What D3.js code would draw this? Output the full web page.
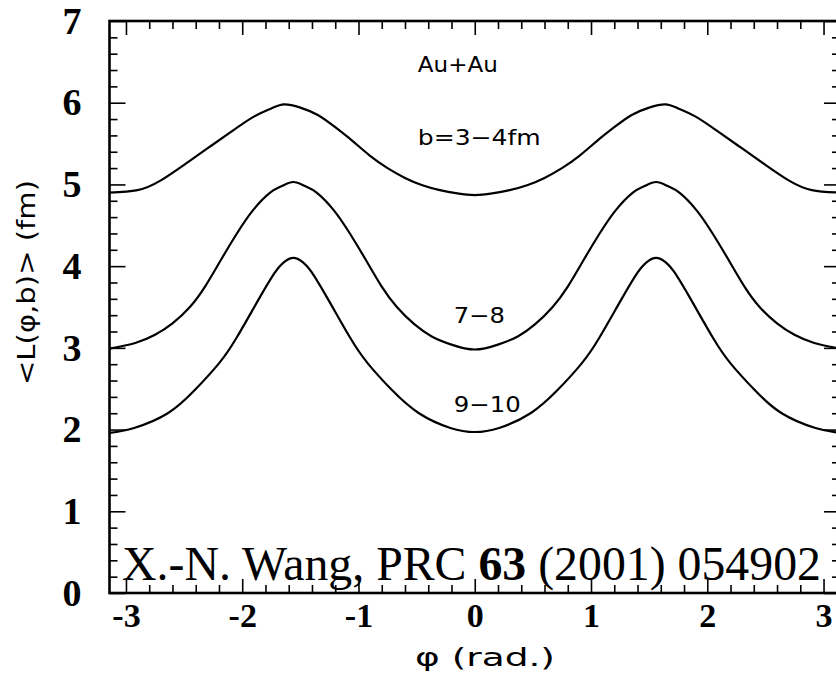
<!DOCTYPE html>
<html><head><meta charset="utf-8">
<script src="https://cdn.jsdelivr.net/npm/d3@7"></script>
<style>body{margin:0;background:#fff}</style>
</head><body>
<svg id="chart" width="836" height="677"></svg>
<script>
// ---- data ----
const phi3_4 = [-3.1416,-2.9,-2.7,-2.5,-2.3,-2.1,-1.9,-1.75,-1.64,-1.5,-1.35,-1.2,-1.05,-0.9,-0.75,-0.6,-0.45,-0.3,-0.15,0,
                0.15,0.3,0.45,0.6,0.75,0.9,1.05,1.2,1.35,1.5,1.64,1.75,1.9,2.1,2.3,2.5,2.7,2.9,3.1416];
const L3_4   = [4.90,4.93,5.05,5.24,5.44,5.64,5.83,5.93,5.98,5.94,5.85,5.70,5.53,5.35,5.20,5.08,4.99,4.93,4.89,4.87,
                4.89,4.93,4.99,5.08,5.20,5.35,5.53,5.70,5.85,5.94,5.98,5.93,5.83,5.64,5.44,5.24,5.05,4.93,4.90];

const phi7_8 = [-3.1416,-2.92,-2.75,-2.6,-2.45,-2.32,-2.19,-2.05,-1.91,-1.76,-1.66,-1.56,-1.46,-1.36,-1.21,-1.07,-0.93,-0.80,-0.67,-0.52,-0.37,-0.2,0,
                0.2,0.37,0.52,0.67,0.80,0.93,1.07,1.21,1.36,1.46,1.56,1.66,1.76,1.91,2.05,2.19,2.32,2.45,2.6,2.75,2.92,3.1416];
const L7_8   = [2.99,3.06,3.16,3.30,3.50,3.75,4.06,4.39,4.68,4.90,4.98,5.03,4.98,4.90,4.68,4.39,4.06,3.75,3.50,3.29,3.14,3.04,2.98,
                3.04,3.14,3.29,3.50,3.75,4.06,4.39,4.68,4.90,4.98,5.03,4.98,4.90,4.68,4.39,4.06,3.75,3.50,3.30,3.16,3.06,2.99];

const phi9_10 = [-3.1416,-2.93,-2.64,-2.41,-2.2,-2.05,-1.86,-1.72,-1.64,-1.56,-1.48,-1.40,-1.26,-1.07,-0.92,-0.71,-0.48,-0.21,0,
                 0.21,0.48,0.71,0.92,1.07,1.26,1.40,1.48,1.56,1.64,1.72,1.86,2.05,2.2,2.41,2.64,2.93,3.1416];
const L9_10   = [1.96,2.02,2.20,2.48,2.81,3.12,3.59,3.92,4.05,4.10,4.05,3.92,3.59,3.12,2.81,2.48,2.20,2.02,1.97,
                 2.02,2.20,2.48,2.81,3.12,3.59,3.92,4.05,4.10,4.05,3.92,3.59,3.12,2.81,2.48,2.20,2.02,1.96];

const xMajorTicks = [-3,-2,-1,0,1,2,3];
const xTickLabels = ["-3","-2","-1","0","1","2","3"];
const yMajorTicks = [0,1,2,3,4,5,6,7];
const yTickLabels = ["0","1","2","3","4","5","6","7"];
const xMinorTicks = [-2.8,-2.6,-2.4,-2.2,-1.8,-1.6,-1.4,-1.2,-0.8,-0.6,-0.4,-0.2,0.2,0.4,0.6,0.8,1.2,1.4,1.6,1.8,2.2,2.4,2.6,2.8];
const yMinorTicks = [0.2,0.4,0.6,0.8,1.2,1.4,1.6,1.8,2.2,2.4,2.6,2.8,3.2,3.4,3.6,3.8,4.2,4.4,4.6,4.8,5.2,5.4,5.6,5.8,6.2,6.4,6.6,6.8];

const curveLabels = [
  {text:"Au+Au",   phi:-0.49, L:6.37, len:80},
  {text:"b=3\u22124fm", phi:-0.49, L:5.48, len:123},
  {text:"7\u22128",  phi:-0.18, L:3.31, len:51},
  {text:"9\u221210", phi:-0.18, L:2.21, len:67}
];
const xTitle = "\u03C6 (rad.)";
const yTitle = "<L(\u03C6,b)> (fm)";

// ---- drawing ----
const svg = d3.select("#chart");
const X0 = 109.5, X1 = 840, Y0 = 593, Y1 = 21;
const x = d3.scaleLinear().domain([-Math.PI, Math.PI]).range([X0, X1]);
const y = d3.scaleLinear().domain([0, 7]).range([Y0, Y1]);

svg.append("rect").attr("width",836).attr("height",677).attr("fill","#fff");

function styleAxis(g){
  g.select(".domain").remove();
  g.selectAll(".tick line").attr("stroke","#000").attr("stroke-width",1.6);
}
// minor ticks
svg.append("g").attr("transform",`translate(0,${Y0})`)
  .call(d3.axisBottom(x).tickValues(xMinorTicks).tickSize(-8).tickFormat(""))
  .call(styleAxis);
svg.append("g").attr("transform",`translate(0,${Y1})`)
  .call(d3.axisTop(x).tickValues(xMinorTicks).tickSize(-8).tickFormat(""))
  .call(styleAxis);
svg.append("g").attr("transform",`translate(${X0},0)`)
  .call(d3.axisLeft(y).tickValues(yMinorTicks).tickSize(-8).tickFormat(""))
  .call(styleAxis);
svg.append("g").attr("transform",`translate(${X1},0)`)
  .call(d3.axisRight(y).tickValues(yMinorTicks).tickSize(-8).tickFormat(""))
  .call(styleAxis);
// major ticks
const gb = svg.append("g").attr("transform",`translate(0,${Y0})`)
  .call(d3.axisBottom(x).tickValues(xMajorTicks).tickSize(-14).tickPadding(10)
        .tickFormat((d,i)=>xTickLabels[i]))
  .call(styleAxis);
gb.selectAll("text").attr("font-family","'Liberation Serif','Times New Roman',serif")
  .attr("font-weight","bold").attr("font-size",34).attr("fill","#000");
svg.append("g").attr("transform",`translate(0,${Y1})`)
  .call(d3.axisTop(x).tickValues(xMajorTicks).tickSize(-14).tickFormat(""))
  .call(styleAxis);
const gl = svg.append("g").attr("transform",`translate(${X0},0)`)
  .call(d3.axisLeft(y).tickValues(yMajorTicks).tickSize(-16).tickPadding(28)
        .tickFormat((d,i)=>yTickLabels[i]))
  .call(styleAxis);
gl.selectAll("text").attr("font-family","'Liberation Serif','Times New Roman',serif")
  .attr("font-weight","bold").attr("font-size",38).attr("fill","#000");
svg.append("g").attr("transform",`translate(${X1},0)`)
  .call(d3.axisRight(y).tickValues(yMajorTicks).tickSize(-16).tickFormat(""))
  .call(styleAxis);

// frame
svg.append("rect").attr("x",X0).attr("y",Y1).attr("width",X1-X0).attr("height",Y0-Y1)
  .attr("fill","none").attr("stroke","#000").attr("stroke-width",2.6);

// curves
const line = d3.line().x(d=>x(d[0])).y(d=>y(d[1])).curve(d3.curveNatural);
[[phi3_4,L3_4],[phi7_8,L7_8],[phi9_10,L9_10]].forEach(([p,l])=>{
  svg.append("path").datum(p.map((v,i)=>[v,l[i]]))
    .attr("d",line).attr("fill","none").attr("stroke","#000").attr("stroke-width",2.2);
});

// annotations
const sans = "'DejaVu Sans',Verdana,sans-serif";
curveLabels.forEach(c=>{
  svg.append("text").attr("x",x(c.phi)).attr("y",y(c.L))
    .attr("font-family",sans).attr("font-size",22).attr("fill","#000")
    .attr("textLength",c.len).attr("lengthAdjust","spacingAndGlyphs")
    .text(c.text);
});

// axis titles
svg.append("text").attr("x",485).attr("y",666).attr("text-anchor","middle")
  .attr("font-family",sans).attr("font-size",25).attr("fill","#000")
  .attr("textLength",140).attr("lengthAdjust","spacingAndGlyphs").text(xTitle);
svg.append("text").attr("transform","translate(35,282.5) rotate(-90)").attr("text-anchor","middle")
  .attr("font-family",sans).attr("font-size",24).attr("fill","#000")
  .attr("textLength",205).attr("lengthAdjust","spacingAndGlyphs").text(yTitle);

// citation
const cite = svg.append("text").attr("x",122).attr("y",580)
  .attr("font-family","'Liberation Serif','Times New Roman',serif").attr("font-size",47.8).attr("fill","#000");
cite.append("tspan").text("X.-N. Wang, PRC ");
cite.append("tspan").attr("font-weight","bold").text("63");
cite.append("tspan").text(" (2001) 054902");
</script>
</body></html>
